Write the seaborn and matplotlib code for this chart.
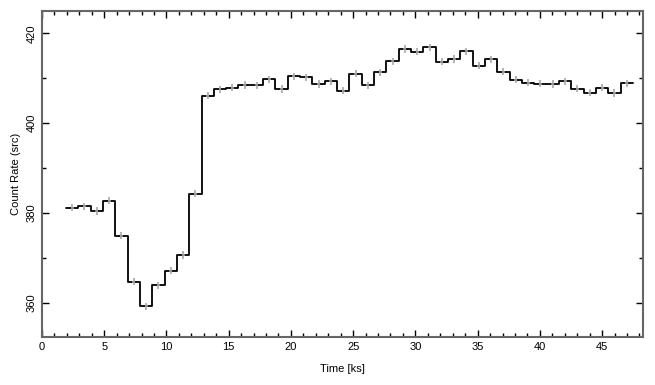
import numpy as np
import pandas as pd
import matplotlib
matplotlib.use("Agg")
import matplotlib.pyplot as plt
from matplotlib.ticker import MultipleLocator
import seaborn as sns

# light curve: 46 bins of ~1 ks
bin_start = 1.93      # ks
bin_width = 0.99      # ks
rate = [381.2, 381.5, 380.5, 382.8, 375.0, 364.8, 359.3, 364.0, 367.2, 370.7,
        384.3, 406.1, 407.5, 407.9, 408.5, 408.4, 409.8, 407.6, 410.4, 410.2,
        408.7, 409.3, 407.2, 411.0, 408.4, 411.3, 413.8, 416.5, 415.9, 416.9,
        413.7, 414.3, 416.0, 412.8, 414.2, 411.5, 409.7, 409.0, 408.8, 408.7,
        409.3, 407.7, 406.8, 407.9, 406.7, 408.9]
rate_err = 0.8
x_ticks = [0, 5, 10, 15, 20, 25, 30, 35, 40, 45]
y_ticks = [360, 380, 400, 420]

sns.set_style("ticks")
plt.rcParams["font.family"] = ["Liberation Sans", "DejaVu Sans"]
plt.rcParams["text.color"] = "black"
plt.rcParams["axes.labelcolor"] = "black"
plt.rcParams["xtick.color"] = "black"
plt.rcParams["ytick.color"] = "black"

n = len(rate)
edges = bin_start + bin_width * np.arange(n + 1)
centers = edges[:-1] + bin_width / 2
steps = pd.DataFrame({"time": edges, "rate": rate + [rate[-1]]})

fig = plt.figure(figsize=(6.55, 3.85), dpi=100)
ax = fig.add_axes([0.064, 0.125, 0.918, 0.847])

sns.lineplot(data=steps, x="time", y="rate", drawstyle="steps-post",
             color="black", lw=1.3, sort=False, estimator=None, ax=ax, zorder=2)
ax.errorbar(centers, rate, yerr=rate_err, xerr=0.12, fmt="none",
            ecolor="#a0a0a0", elinewidth=1.1, zorder=3)

ax.set_xlim(0, 48.3)
ax.set_ylim(352.5, 425)
ax.set_xticks(x_ticks)
ax.set_yticks(y_ticks)
ax.xaxis.set_minor_locator(MultipleLocator(1))
ax.yaxis.set_minor_locator(MultipleLocator(10))
ax.tick_params(which="both", direction="in", top=True, right=True,
               labelsize=8, color="black", labelcolor="black", pad=4)
ax.tick_params(which="major", length=5, width=1)
ax.tick_params(which="minor", length=3, width=1)
for lab in ax.get_yticklabels():
    lab.set_rotation(90)
    lab.set_va("center")

for sp in ax.spines.values():
    sp.set_color("#666666")
    sp.set_linewidth(1.5)

ax.set_xlabel("Time [ks]", fontsize=8, labelpad=8)
ax.set_ylabel("Count Rate (src)", fontsize=8, labelpad=4)

fig.savefig("out.png", dpi=100)
